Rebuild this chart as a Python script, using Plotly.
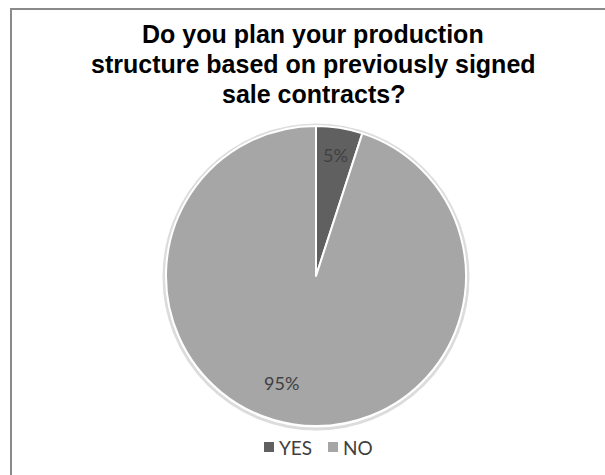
import math
import plotly.graph_objects as go

# Survey answers
categories = ["YES", "NO"]
shares = [5, 95]
colors = ["#606060", "#a6a6a6"]

title_lines = ["Do you plan your production",
               "structure based on previously signed",
               "sale contracts?"]

W, H = 605, 475
cx, cy, r = 316, 276, 150  # pie centre / radius in pixels
label_font = "Lato, 'Open Sans', sans-serif"

dom_x = [(cx - r) / W, (cx + r) / W]
dom_y = [1 - (cy + r) / H, 1 - (cy - r) / H]

fig = go.Figure(
    go.Pie(
        labels=categories,
        values=shares,
        sort=False,
        direction="clockwise",
        rotation=0,
        marker=dict(colors=colors, line=dict(color="white", width=2)),
        textinfo="none",
        hoverinfo="label+percent",
        domain=dict(x=dom_x, y=dom_y),
        showlegend=False,
    )
)

# percentage labels placed inside each slice
total = sum(shares)
label_spots = [(0.82, 0.0), (0.75, 9.0)]  # radius fraction, angular nudge (deg)
annotations = []
start = 0.0
for val, (rf, nudge) in zip(shares, label_spots):
    span = 360.0 * val / total
    mid = math.radians(start + span / 2 + nudge)
    px = cx + rf * r * math.sin(mid)
    py = cy - rf * r * math.cos(mid)
    annotations.append(dict(
        x=px / W, y=1 - py / H, xref="paper", yref="paper",
        xanchor="center", yanchor="middle",
        text=f"{round(100 * val / total)}%", showarrow=False,
        font=dict(family=label_font, size=18, color="#404040"),
    ))
    start += span

# title, one annotation per line for exact line spacing
title_size = 25
title_y0, title_gap = 34, 30
for i, line in enumerate(title_lines):
    annotations.append(dict(
        x=313 / W, y=1 - (title_y0 + i * title_gap) / H, xref="paper", yref="paper",
        text=f"<b>{line}</b>", showarrow=False,
        font=dict(family="'Liberation Sans', Arial, sans-serif", size=title_size,
                  color="#000000"),
        xanchor="center", yanchor="middle",
    ))

shapes = [
    # faint halo round the pie
    dict(type="circle", xref="paper", yref="paper", layer="below",
         x0=(cx - r - 2) / W, x1=(cx + r + 2) / W,
         y0=1 - (cy + r + 3) / H, y1=1 - (cy - r - 1) / H,
         line=dict(color="#dcdcdc", width=3), fillcolor="rgba(0,0,0,0)"),
    # chart frame (top and left edges visible)
    dict(type="line", xref="paper", yref="paper",
         x0=10 / W, x1=1.05, y0=1 - 9 / H, y1=1 - 9 / H,
         line=dict(color="#8a8a8a", width=2)),
    dict(type="line", xref="paper", yref="paper",
         x0=11 / W, x1=11 / W, y0=1 - 9 / H, y1=-0.05,
         line=dict(color="#8a8a8a", width=2)),
]

# compact legend: swatch + label for each category
legend_y = 447
legend_x = [264, 328]  # left edge of each swatch
sw = 10
for name, col, lx in zip(categories, colors, legend_x):
    shapes.append(dict(
        type="rect", xref="paper", yref="paper",
        x0=lx / W, x1=(lx + sw) / W,
        y0=1 - (legend_y + sw / 2) / H, y1=1 - (legend_y - sw / 2) / H,
        fillcolor=col, line=dict(width=0),
    ))
    annotations.append(dict(
        x=(lx + sw + 3) / W, y=1 - legend_y / H, xref="paper", yref="paper",
        xanchor="left", yanchor="middle", text=name, showarrow=False,
        font=dict(family=label_font, size=19, color="#404040"),
    ))

fig.update_layout(
    width=W, height=H,
    margin=dict(l=0, r=0, t=0, b=0),
    paper_bgcolor="white",
    plot_bgcolor="white",
    showlegend=False,
    annotations=annotations,
    shapes=shapes,
)

fig.write_html("out.html")
